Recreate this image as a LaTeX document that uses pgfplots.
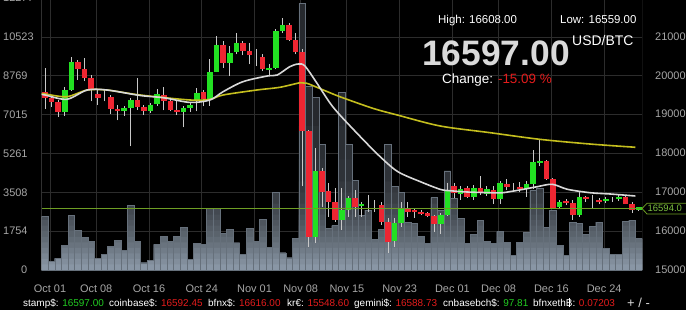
\documentclass[border=0pt]{standalone}
\usepackage{pgfplots}
\pgfplotsset{compat=1.18}
\usepackage{pgfplotstable}
\usepackage{fontspec}
\setmainfont{Liberation Sans}
\definecolor{gridc}{HTML}{2C2C2C}
\definecolor{axc}{HTML}{8A8A8A}
\definecolor{tickc}{HTML}{A6A6A6}
\definecolor{candG}{HTML}{22E022}
\definecolor{candR}{HTML}{EE2632}
\definecolor{wickc}{HTML}{C8C8C8}
\definecolor{maW}{HTML}{D8D8D8}
\definecolor{maY}{HTML}{C4BE1E}
\definecolor{pline}{HTML}{6E9E24}
\definecolor{tagtxt}{HTML}{7CC040}
\definecolor{barTop}{HTML}{26292E}
\definecolor{barBot}{HTML}{8E9CAB}
\definecolor{barEdge}{HTML}{66707B}
\definecolor{valG}{HTML}{22CC22}
\definecolor{valR}{HTML}{E41C1C}
\definecolor{bigc}{HTML}{DADADA}

\pgfplotstableread{
i v
0 2408
1 398
2 520
3 1109
4 2467
5 1788
6 1457
7 1276
8 520
9 702
10 1078
11 1349
12 896
13 2933
14 1304
15 326
16 430
17 1154
18 1530
19 1304
20 1503
21 1910
22 475
23 1186
24 1154
25 2790
26 2770
27 1670
28 1833
29 1230
30 690
31 1890
32 1290
33 2300
34 1005
35 3521
36 778
37 552
38 1412
39 12040
40 8300
41 7800
42 5670
43 1864
44 2000
45 8020
46 5680
47 4060
48 2480
49 2707
50 1380
51 1833
52 5680
53 3765
54 3521
55 2140
56 2105
57 1503
58 1200
59 3268
60 2700
61 4470
62 3250
63 2340
64 1200
65 1607
66 2250
67 1304
68 1200
69 1745
70 1231
71 670
72 1231
73 1684
74 3600
75 3700
76 1910
77 2700
78 1110
79 656
80 2163
81 2105
82 1607
83 1982
84 2163
85 960
86 700
87 700
88 2208
89 2240
90 1412
}\voldata

\pgfplotstableread{
i o h l c
0 19563 20174 19134 19418
1 19418 19503 19186 19304
2 19304 19374 18928 19047
5 20347 20381 19890 20167
6 20167 20451 19847 19942
7 19942 20019 19330 19632
8 19529 19632 19245 19408
10 19434 19503 19013 19134
11 19134 19245 18840 19072
14 19356 19934 19117 19186
15 19186 19245 18987 19072
18 19503 19702 19098 19330
19 19330 19392 19072 19117
20 19117 19374 18987 19047
24 19563 19614 19202 19392
27 20768 20879 20192 20303
30 20820 20879 20510 20621
31 20621 20838 20278 20510
33 20476 20536 20105 20149
37 21284 21335 20879 20905
38 20905 21096 20536 20595
39 20595 20665 17137 18556
40 18556 18600 15589 15847
42 17524 17612 16621 16982
43 17008 17225 16363 16750
44 16750 17103 16234 16278
47 16853 17052 16363 16621
51 16665 16750 16149 16234
52 16234 16329 15426 15718
55 16554 16750 16363 16492
56 16536 16560 16321 16492
57 16492 16520 16400 16433
58 16451 16480 16340 16381
59 16381 16407 15976 16175
62 17155 17225 16837 16967
64 17096 17155 16837 16879
66 17096 17395 16923 16967
68 17052 17137 16691 16819
70 17207 17328 17052 17122
72 17111 17240 16982 17070
76 17782 17808 17310 17328
77 17328 17352 16580 16580
79 16768 16812 16665 16709
80 16709 16794 16278 16407
82 16879 16897 16750 16812
84 16794 16840 16691 16750
88 16879 16897 16691 16691
89 16691 16750 16460 16536
}\tabR

\pgfplotstableread{
i o h l c
3 19047 19702 18961 19632
4 19632 20476 19589 20337
12 19072 19220 18961 19160
13 19160 19408 18169 19356
16 19072 19289 19031 19245
17 19271 19658 19220 19521
21 19047 19220 18660 19160
22 19160 19300 19065 19245
23 19330 19676 19072 19547
25 19392 20407 19220 20079
26 20079 21008 20079 20768
28 20303 20750 19976 20580
29 20595 21078 20536 20820
34 20149 20278 20019 20192
35 20192 21199 20149 21137
36 21137 21465 21096 21284
41 15847 18128 15692 17524
45 16278 17103 16020 16536
46 16536 16897 16363 16837
48 16639 16750 16363 16691
53 15744 16321 15589 16192
54 16192 16742 16105 16587
60 16175 16460 15910 16407
61 16407 17225 16380 17052
63 16949 17137 16794 17070
65 16879 17181 16794 17096
67 16949 17137 16897 17070
69 16819 17290 16691 17225
73 17070 17266 16879 17207
74 17207 18084 17070 17756
75 17741 18360 17653 17782
78 16605 16794 16580 16750
81 16407 17008 16363 16863
85 16768 16860 16710 16812
87 16812 16923 16768 16879
90 16536 16610 16510 16597
}\tabG

\pgfplotstableread{
i h l m
9 19632 19330 19475
32 20665 20234 20490
49 16923 16492 16680
50 16794 16492 16585
71 17225 17008 17115
83 16923 16580 16795
86 16860 16750 16812
}\tabD

\pgfplotsset{volband/.style={ybar, bar width=1, bar shift=0pt, draw=none, forget plot}}

\begin{document}
\begin{tikzpicture}[x=1bp,y=1bp]
\useasboundingbox (0,0) rectangle (686,310);
\fill[black] (0,0) rectangle (686,310);

% ---------- volume axis (left) ----------
\begin{axis}[
  at={(41.7bp,40bp)}, anchor=south west, scale only axis,
  width=600.3bp, height=270bp,
  xmin=-0.5, xmax=90.5, ymin=0, ymax=12190,
  axis line style={draw=none},
  major tick length=0pt,
  scaled ticks=false,
  grid=major, grid style={draw=gridc, line width=0.8bp},
  xtick={0.76,7.76,15.76,23.76,31.76,38.76,45.76,53.76,61.76,68.76,76.76,84.76},
  xticklabels={Oct 01,Oct 08,Oct 16,Oct 24,Nov 01,Nov 08,Nov 15,Nov 23,Dec 01,Dec 08,Dec 16,Dec 24},
  xticklabel style={anchor=base, inner sep=0pt, yshift=-22.5bp, font=\fontsize{11}{13}\selectfont, text=tickc},
  ytick={0,1753.857,3507.714,5261.571,7015.428,8769.285,10523.142},
  yticklabels={\makebox[24bp][r]{0},1754,3508,5261,7015,8769,10523},
  yticklabel style={anchor=west, inner sep=0pt, xshift=-38.7bp, font=\fontsize{11}{13}\selectfont, text=tickc},
  /pgf/number format/assume math mode=true,
]
% vertical gradient of the volume bars, painted as bands from the top down
\addplot[volband, fill=barTop] table[x=i, y=v] {\voldata};
\addplot[volband, fill=barBot!4!barTop] table[x=i, y expr={min(\thisrow{v},6500)}] {\voldata};
\addplot[volband, fill=barBot!8!barTop] table[x=i, y expr={min(\thisrow{v},5000)}] {\voldata};
\addplot[volband, fill=barBot!13!barTop] table[x=i, y expr={min(\thisrow{v},4000)}] {\voldata};
\addplot[volband, fill=barBot!18!barTop] table[x=i, y expr={min(\thisrow{v},3500)}] {\voldata};
\addplot[volband, fill=barBot!24!barTop] table[x=i, y expr={min(\thisrow{v},3000)}] {\voldata};
\addplot[volband, fill=barBot!28!barTop] table[x=i, y expr={min(\thisrow{v},2750)}] {\voldata};
\addplot[volband, fill=barBot!33!barTop] table[x=i, y expr={min(\thisrow{v},2500)}] {\voldata};
\addplot[volband, fill=barBot!38!barTop] table[x=i, y expr={min(\thisrow{v},2250)}] {\voldata};
\addplot[volband, fill=barBot!44!barTop] table[x=i, y expr={min(\thisrow{v},2000)}] {\voldata};
\addplot[volband, fill=barBot!50!barTop] table[x=i, y expr={min(\thisrow{v},1750)}] {\voldata};
\addplot[volband, fill=barBot!57!barTop] table[x=i, y expr={min(\thisrow{v},1500)}] {\voldata};
\addplot[volband, fill=barBot!64!barTop] table[x=i, y expr={min(\thisrow{v},1250)}] {\voldata};
\addplot[volband, fill=barBot!72!barTop] table[x=i, y expr={min(\thisrow{v},1000)}] {\voldata};
\addplot[volband, fill=barBot!80!barTop] table[x=i, y expr={min(\thisrow{v},750)}] {\voldata};
\addplot[volband, fill=barBot!88!barTop] table[x=i, y expr={min(\thisrow{v},500)}] {\voldata};
\addplot[volband, fill=barBot!95!barTop] table[x=i, y expr={min(\thisrow{v},250)}] {\voldata};
\addplot[ybar, bar width=1, bar shift=0pt, draw=barEdge, line width=0.5bp, fill=none, forget plot]
  table[x=i, y=v] {\voldata};
\draw[axc, line width=1bp] (rel axis cs:0,0) -- (rel axis cs:0,1);
\draw[axc, line width=1bp] (rel axis cs:1,0) -- (rel axis cs:1,1);
\end{axis}

% ---------- price axis (right) ----------
\begin{axis}[
  at={(41.7bp,40bp)}, anchor=south west, scale only axis,
  width=600.3bp, height=270bp,
  xmin=-0.5, xmax=90.5, ymin=14987, ymax=21937,
  axis line style={draw=none},
  major tick length=0pt,
  scaled ticks=false,
  xtick=\empty,
  ytick={15000,16000,17000,18000,19000,20000,21000},
  yticklabels={15000,16000,17000,18000,19000,20000,21000},
  yticklabel pos=right,
  yticklabel style={anchor=west, inner sep=0pt, xshift=13bp, font=\fontsize{11}{13}\selectfont, text=tickc},
  /pgf/number format/assume math mode=true,
]
% wicks
\addplot[draw=none, mark=none, forget plot,
  error bars/.cd, y dir=plus, y explicit, error mark=none,
  error bar style={draw=wickc, line width=1bp}]
  table[x=i, y=l, y error plus expr=\thisrow{h}-\thisrow{l}] {\tabR};
\addplot[draw=none, mark=none, forget plot,
  error bars/.cd, y dir=plus, y explicit, error mark=none,
  error bar style={draw=wickc, line width=1bp}]
  table[x=i, y=l, y error plus expr=\thisrow{h}-\thisrow{l}] {\tabG};
\addplot[draw=none, mark=none, forget plot,
  error bars/.cd, y dir=plus, y explicit, error mark=none,
  error bar style={draw=wickc, line width=1bp}]
  table[x=i, y=l, y error plus expr=\thisrow{h}-\thisrow{l}] {\tabD};
% bodies
\addplot[draw=none, mark=none, forget plot,
  error bars/.cd, y dir=both, y explicit, error mark=none,
  error bar style={draw=candR, line width=5.6bp}]
  table[x=i, y expr=(\thisrow{o}+\thisrow{c})/2, y error expr={max(abs(\thisrow{c}-\thisrow{o})/2,14)}] {\tabR};
\addplot[draw=none, mark=none, forget plot,
  error bars/.cd, y dir=both, y explicit, error mark=none,
  error bar style={draw=candG, line width=5.6bp}]
  table[x=i, y expr=(\thisrow{o}+\thisrow{c})/2, y error expr={max(abs(\thisrow{c}-\thisrow{o})/2,14)}] {\tabG};
% current price line
\addplot[pline, line width=1bp, forget plot] coordinates {(-0.5,16560) (90.5,16560)};
% moving averages
\addplot[maY, line width=1.6bp, smooth, forget plot] coordinates {
(-0.5,19525) (0,19518) (3.3,19448) (6.4,19620) (9.4,19620) (14.4,19492) (22,19363) (25,19381)
(27,19492) (32.1,19620) (35.6,19690) (38.7,19808) (39.7,19793) (42.2,19620) (44.7,19448)
(49.7,19149) (53.4,18977) (59.9,18694) (67.5,18521) (75,18351) (82.6,18230) (89.5,18146)};
\addplot[maW, line width=1.6bp, smooth, forget plot] coordinates {
(-0.5,19500) (0,19492) (3.3,19381) (6.4,19620) (9.4,19620) (14.4,19480) (18,19420) (22,19300)
(25,19363) (27,19577) (30,19834) (33.7,19981) (35.2,20006) (37.1,20220) (38.4,20290) (39.4,20238)
(41.2,19801) (43.2,19286) (44.7,18977) (47.8,18418) (50.8,17904) (53.5,17517) (56.9,17260)
(59.9,17064) (61.4,17028) (64,16995) (67.5,16977) (69.4,16977) (72.5,17064) (74.6,17131)
(76.9,17193) (79.2,17064) (82.6,16977) (85.7,16943) (89.5,16892)};
\end{axis}

% price tag
\draw[pline, fill=black, line width=0.8bp] (642,101.5) -- (647,106.7) -- (690,106.7) -- (690,96) -- (647,96) -- cycle;
\node[anchor=west, inner sep=0pt, text=tagtxt, font=\fontsize{9.5}{11}\selectfont] at (647.5,101.5) {16594.0};

% top label, cut off by the top edge as in the reference
\node[anchor=west, inner sep=0pt, text=tickc, font=\fontsize{11}{13}\selectfont] at (3,312) {12277};

% overlay info
\node[anchor=base west, inner sep=0pt, text=white, font=\fontsize{11.5}{13}\selectfont] at (438,286.5) {High: 16608.00};
\node[anchor=base west, inner sep=0pt, text=white, font=\fontsize{11.5}{13}\selectfont] at (560,286.5) {Low: 16559.00};
\node[anchor=base west, inner sep=0pt, text=bigc, font=\fontsize{35.5}{40}\selectfont\bfseries] at (422,245) {16597.00};
\node[anchor=base west, inner sep=0pt, text=white, font=\fontsize{14}{16}\selectfont] at (572,265) {USD/BTC};
\node[anchor=base west, inner sep=0pt, text=white, font=\fontsize{13.5}{16}\selectfont] at (442,226.3) {Change: \textcolor{valR}{-15.09 \%}};

% bottom exchange row
\begin{scope}[every node/.style={anchor=base west, inner sep=0pt, text=white, font=\fontsize{10}{12}\selectfont}]
\node at (23,4) {stamp\$: \textcolor{valG}{16597.00}};
\node at (109,4) {coinbase\$: \textcolor{valR}{16592.45}};
\node at (208,4) {bfnx\$: \textcolor{valR}{16616.00}};
\node at (287,4) {kr€: \textcolor{valR}{15548.60}};
\node at (354,4) {gemini\$: \textcolor{valR}{16588.73}};
\node at (443,4) {cnbasebch\$: \textcolor{valG}{97.81}};
\node at (533,4) {bfnxeth\ooalign{\hfil\vrule height 0.82em depth 0.1em width 0.07em\hfil\cr B\cr}: \textcolor{valR}{0.07203}};
\node[font=\fontsize{13}{15}\selectfont, text=white!85!black] at (627,3) {+ / -};
\end{scope}
\end{tikzpicture}
\end{document}
